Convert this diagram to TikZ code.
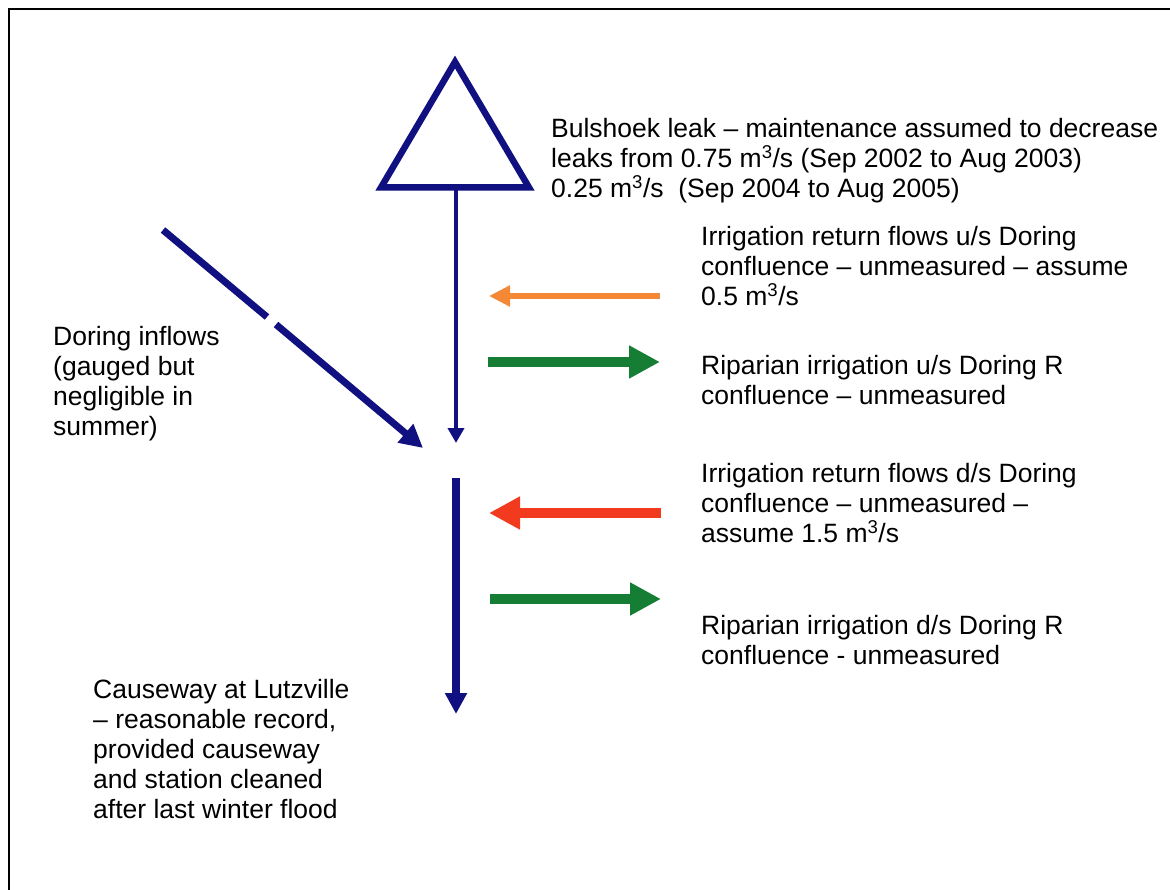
\documentclass[tikz,border=0pt]{standalone}
\usepackage{fontspec}
\setmainfont{Liberation Sans}
\usetikzlibrary{arrows.meta}

\definecolor{riverblue}{RGB}{16,16,128}
\definecolor{returnorange}{RGB}{244,136,52}
\definecolor{returnred}{RGB}{242,58,30}
\definecolor{takegreen}{RGB}{22,126,52}

\begin{document}
\begin{tikzpicture}[x=1pt, y=-1pt,
	flow/.style={riverblue, line width=#1},
	txt/.style={anchor=north west, inner sep=0pt, align=left, font=\fontsize{26.5}{30}\selectfont},
	bigtip/.style={-{Triangle[length=31pt,width=31pt]}}]
	\useasboundingbox (0,0) rectangle (1170,890);
	\draw[line width=2.5pt] (9,890) -- (9,9) -- (1170,9);

	% dam
	\coordinate (Top) at (455,62);
	\coordinate (BL) at (381,187.5);
	\coordinate (BR) at (529,187.5);
	\coordinate (B) at (456,187.5);
	\draw[flow=6.5pt, line join=miter] (Top) -- (BR) -- (BL) -- cycle;

	% river
	\coordinate (J1) at (456,443);
	\coordinate (J2) at (456,478);
	\coordinate (L) at (456,714);
	\draw[flow=4pt, -{Triangle[length=15pt,width=16pt]}] (B) -- (J1);
	\draw[flow=7.5pt, -{Triangle[length=21pt,width=21pt]}] (J2) -- (L);

	% Doring
	\coordinate (D1) at (163,230);
	\coordinate (G1) at (267,317);
	\coordinate (G2) at (276,324.5);
	\coordinate (D2) at (423,448);
	\draw[flow=7pt] (D1) -- (G1);
	\draw[flow=7pt, -{Triangle[length=23pt,width=23pt]}] (G2) -- (D2);

	% returns and abstractions
	\coordinate (R1a) at (660,296);
	\coordinate (R1b) at (489,296);
	\coordinate (A1a) at (488,362);
	\coordinate (A1b) at (660,362);
	\coordinate (R2a) at (661,513);
	\coordinate (R2b) at (489,513);
	\coordinate (A2a) at (490,599);
	\coordinate (A2b) at (661,599);
	\draw[returnorange, line width=6pt, -{Triangle[length=21pt,width=20pt]}] (R1a) -- (R1b);
	\draw[takegreen, line width=10pt, bigtip] (A1a) -- (A1b);
	\draw[returnred, line width=10pt, bigtip] (R2a) -- (R2b);
	\draw[takegreen, line width=10pt, bigtip] (A2a) -- (A2b);

	% labels
	\node[txt] (Leak) at (551,118.5) {Bulshoek leak -- maintenance assumed to decrease\\leaks from 0.75 m\textsuperscript{3}/s (Sep 2002 to Aug 2003)\\0.25 m\textsuperscript{3}/s\ \ (Sep 2004 to Aug 2005)};
	\node[txt] (Ret1) at (701,226.5) {Irrigation return flows u/s Doring\\confluence -- unmeasured -- assume\\0.5 m\textsuperscript{3}/s};
	\node[txt] (Rip1) at (701,355.5) {Riparian irrigation u/s Doring R\\confluence -- unmeasured};
	\node[txt] (Ret2) at (701,463.5) {Irrigation return flows d/s Doring\\confluence -- unmeasured --\\assume 1.5 m\textsuperscript{3}/s};
	\node[txt] (Rip2) at (701,615.5) {Riparian irrigation d/s Doring R\\confluence - unmeasured};
	\node[txt] (Dor) at (53,326.5) {Doring inflows\\(gauged but\\negligible in\\summer)};
	\node[txt] (Cau) at (93,679.5) {Causeway at Lutzville\\-- reasonable record,\\provided causeway\\and station cleaned\\after last winter flood};
\end{tikzpicture}
\end{document}
